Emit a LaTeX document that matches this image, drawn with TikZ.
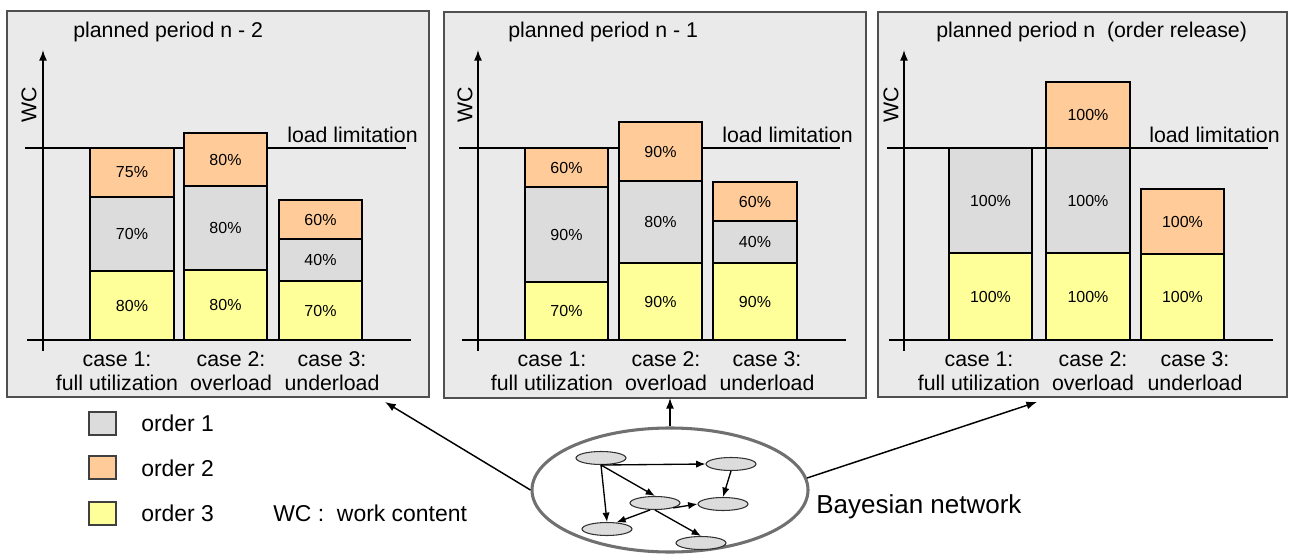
\documentclass[tikz,border=0pt]{standalone}
\usepackage{fontspec}
\setmainfont{Liberation Sans}
\usetikzlibrary{arrows.meta,shapes.geometric}

\definecolor{ordone}{HTML}{DCDCDC}
\definecolor{ordtwo}{HTML}{FFCC99}
\definecolor{ordthree}{HTML}{FFFF99}
\definecolor{panelbg}{HTML}{EAEAEA}
\definecolor{panelframe}{HTML}{505050}
\definecolor{bnring}{HTML}{707070}
\definecolor{bnnode}{HTML}{DCDCDC}

% one stacked bar segment: x1, x2, top, bottom, fill, text, name
\newcommand{\barseg}[7]{%
  \draw[segline, fill=#5] (#1,#3) rectangle (#2,#4);
  \node[pct] (#7) at ({(#1+#2)/2},{(#3+#4)/2}) {#6};}

\begin{document}
\begin{tikzpicture}[x=0.75pt,y=-0.75pt,
  panelbox/.style={draw=panelframe, fill=panelbg, line width=1.1pt},
  segline/.style={draw=black, line width=0.8pt},
  pct/.style={font=\fontsize{12pt}{14pt}\selectfont, inner sep=0pt},
  bigtxt/.style={font=\fontsize{16pt}{18pt}\selectfont, inner sep=0pt},
  legtxt/.style={font=\fontsize{17.2pt}{19pt}\selectfont, inner sep=0pt},
  caselbl/.style={bigtxt, align=center},
  wclbl/.style={bigtxt, rotate=90},
  axisline/.style={draw=black, line width=1.1pt},
  axisarrow/.style={axisline, -{Latex[length=8pt,width=6pt]}},
  linkarrow/.style={draw=black, line width=1.1pt, -{Latex[length=8pt,width=6pt]}},
  bnsmall/.style={ellipse, draw=black!80, fill=bnnode, line width=0.8pt,
    minimum width=50*0.75pt, minimum height=13*0.75pt, inner sep=0pt},
  bnarrow/.style={draw=black, line width=1pt, -{Latex[length=7pt,width=5.5pt]}},
  legbox/.style={draw=black!75, line width=0.8pt}]

\useasboundingbox (0,0) rectangle (1289,556);

% ---------------- period n-2 ----------------
\draw[panelbox] (7,11) rectangle (429,397);
\node[bigtxt, anchor=west] (title1) at (73,32) {planned period n - 2};
\coordinate (o1) at (43,351);
\coordinate (y1) at (43,50);
\draw[axisarrow] (o1) -- (y1);
\node[wclbl] (wc1) at (29,105) {WC};
\coordinate (la1) at (25,148);
\coordinate (lb1) at (406,148);
\draw[axisline] (la1) -- (lb1);
\coordinate (ba1) at (27,340);
\coordinate (bb1) at (411,340);
\draw[axisline] (ba1) -- (bb1);
\node[bigtxt, anchor=west] (load1) at (287,135) {load limitation};
\barseg{90}{174}{148}{197}{ordtwo}{75\%}{a1o}
\barseg{90}{174}{197}{271}{ordone}{70\%}{a1g}
\barseg{90}{174}{271}{340}{ordthree}{80\%}{a1y}
\barseg{184}{267}{133}{186}{ordtwo}{80\%}{a2o}
\barseg{184}{267}{186}{270}{ordone}{80\%}{a2g}
\barseg{184}{267}{270}{340}{ordthree}{80\%}{a2y}
\barseg{279}{362}{200}{239}{ordtwo}{60\%}{a3o}
\barseg{279}{362}{239}{281}{ordone}{40\%}{a3g}
\barseg{279}{362}{281}{340}{ordthree}{70\%}{a3y}
\node[caselbl] (c11) at (117,371) {case 1:\\full utilization};
\node[caselbl] (c12) at (231,371) {case 2:\\overload};
\node[caselbl] (c13) at (332,371) {case 3:\\underload};

% ---------------- period n-1 ----------------
\draw[panelbox] (444,12) rectangle (866,398);
\node[bigtxt, anchor=west] (title2) at (508,32) {planned period n - 1};
\coordinate (o2) at (478,351);
\coordinate (y2) at (478,50);
\draw[axisarrow] (o2) -- (y2);
\node[wclbl] (wc2) at (465,105) {WC};
\coordinate (la2) at (459,148);
\coordinate (lb2) at (840,148);
\draw[axisline] (la2) -- (lb2);
\coordinate (ba2) at (462,340);
\coordinate (bb2) at (846,340);
\draw[axisline] (ba2) -- (bb2);
\node[bigtxt, anchor=west] (load2) at (722,135) {load limitation};
\barseg{525}{608}{148}{187}{ordtwo}{60\%}{b1o}
\barseg{525}{608}{187}{282}{ordone}{90\%}{b1g}
\barseg{525}{608}{282}{340}{ordthree}{70\%}{b1y}
\barseg{619}{702}{122}{181}{ordtwo}{90\%}{b2o}
\barseg{619}{702}{181}{263}{ordone}{80\%}{b2g}
\barseg{619}{702}{263}{340}{ordthree}{90\%}{b2y}
\barseg{713}{797}{182}{221}{ordtwo}{60\%}{b3o}
\barseg{713}{797}{221}{263}{ordone}{40\%}{b3g}
\barseg{713}{797}{263}{340}{ordthree}{90\%}{b3y}
\node[caselbl] (c21) at (552,371) {case 1:\\full utilization};
\node[caselbl] (c22) at (666,371) {case 2:\\overload};
\node[caselbl] (c23) at (767,371) {case 3:\\underload};

% ---------------- period n ----------------
\draw[panelbox] (878,12) rectangle (1287,397);
\node[bigtxt, anchor=west] (title3) at (936,32) {planned period n ~(order release)};
\coordinate (o3) at (904,351);
\coordinate (y3) at (904,50);
\draw[axisarrow] (o3) -- (y3);
\node[wclbl] (wc3) at (891,105) {WC};
\coordinate (la3) at (887,148);
\coordinate (lb3) at (1268,148);
\draw[axisline] (la3) -- (lb3);
\coordinate (ba3) at (889,340);
\coordinate (bb3) at (1273,340);
\draw[axisline] (ba3) -- (bb3);
\node[bigtxt, anchor=west] (load3) at (1149,135) {load limitation};
\barseg{949}{1032}{148}{253}{ordone}{100\%}{c1g}
\barseg{949}{1032}{253}{340}{ordthree}{100\%}{c1y}
\barseg{1046}{1130}{82}{148}{ordtwo}{100\%}{c2o}
\barseg{1046}{1130}{148}{253}{ordone}{100\%}{c2g}
\barseg{1046}{1130}{253}{340}{ordthree}{100\%}{c2y}
\barseg{1141}{1224}{189}{254}{ordtwo}{100\%}{c3o}
\barseg{1141}{1224}{254}{340}{ordthree}{100\%}{c3y}
\node[caselbl] (c31) at (979,371) {case 1:\\full utilization};
\node[caselbl] (c32) at (1093,371) {case 2:\\overload};
\node[caselbl] (c33) at (1195,371) {case 3:\\underload};

% ---------------- legend ----------------
\draw[legbox, fill=ordone] (89,412) rectangle (116,435);
\draw[legbox, fill=ordtwo] (89,456) rectangle (116,479);
\draw[legbox, fill=ordthree] (89,502) rectangle (116,525);
\node[legtxt, anchor=west] (leg1) at (141,423) {order 1};
\node[legtxt, anchor=west] (leg2) at (141,468) {order 2};
\node[legtxt, anchor=west] (leg3) at (141,513) {order 3};
\node[legtxt, anchor=west] (wcdef) at (273,513) {WC :~ work content};

% ---------------- Bayesian network ----------------
\node[ellipse, draw=bnring, fill=white, line width=2.3pt,
  minimum width=276*0.75pt, minimum height=124*0.75pt] (bn) at (670,490) {};
\node[bnsmall] (nA) at (601,458) {};
\node[bnsmall] (nB) at (731,464) {};
\node[bnsmall] (nC) at (655,503) {};
\node[bnsmall] (nD) at (723,504) {};
\node[bnsmall] (nE) at (607,529) {};
\node[bnsmall] (nF) at (701,543) {};
\draw[bnarrow] (nA.south) -- (nB.west);
\draw[bnarrow] (nA.south) -- (nE.north);
\draw[bnarrow] (nA.south) -- (nC.north);
\draw[bnarrow] (nB.south) -- (nD.north);
\draw[bnarrow] (nC.-15) -- (nD.west);
\draw[bnarrow] (nC.-125) -- (nE.35);
\draw[bnarrow] (nC.south) -- (nF.north);
\node[font=\fontsize{19.5pt}{22pt}\selectfont, inner sep=0pt, anchor=west]
  (bnlbl) at (816,507) {Bayesian network};

% links from the network to the three periods
\coordinate (tgt1) at (385,402);
\coordinate (tgt2) at (670,398);
\coordinate (tgt3) at (1037,402);
\draw[linkarrow] (bn.west) -- (tgt1);
\draw[linkarrow] (bn.north) -- (tgt2);
\draw[linkarrow] (bn.5) -- (tgt3);
\end{tikzpicture}
\end{document}
